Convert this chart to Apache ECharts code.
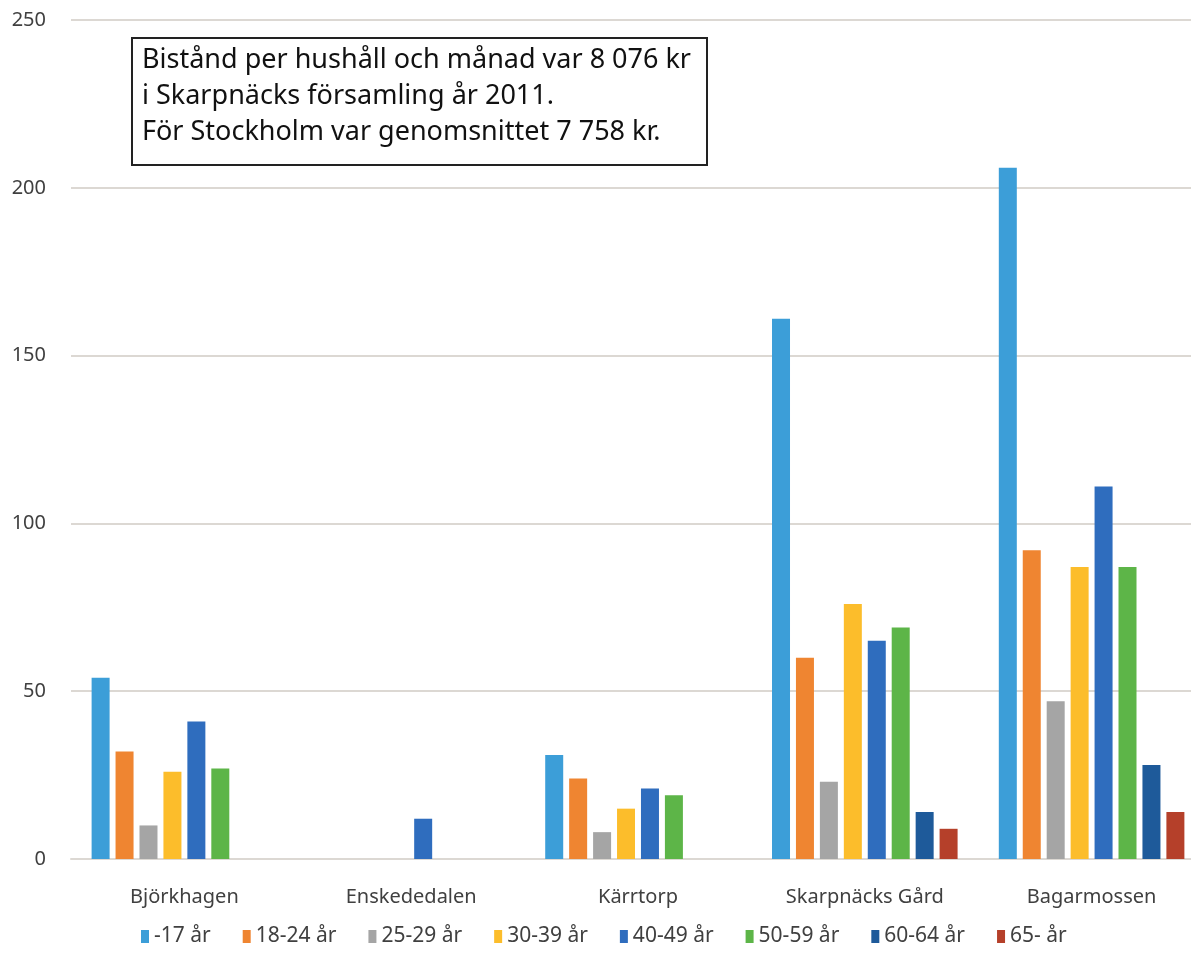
<!DOCTYPE html>
<html><head><meta charset="utf-8">
<script src="https://cdn.jsdelivr.net/npm/echarts@6/dist/echarts.min.js"></script>
<style>html,body{margin:0;padding:0;background:#fff}#c{width:1191px;height:963px}</style>
</head><body><div id="c"></div>
<script>
const categories = ['Björkhagen', 'Enskededalen', 'Kärrtorp', 'Skarpnäcks Gård', 'Bagarmossen'];
const seriesNames = ['-17 år', '18-24 år', '25-29 år', '30-39 år', '40-49 år', '50-59 år', '60-64 år', '65- år'];
const age0_17  = [54, 0, 31, 161, 206];
const age18_24 = [32, 0, 24, 60, 92];
const age25_29 = [10, 0, 8, 23, 47];
const age30_39 = [26, 0, 15, 76, 87];
const age40_49 = [41, 12, 21, 65, 111];
const age50_59 = [27, 0, 19, 69, 87];
const age60_64 = [0, 0, 0, 14, 28];
const age65    = [0, 0, 0, 9, 14];
const yTicks = [0, 50, 100, 150, 200, 250];
const colors = ['#3C9ED8', '#EF8531', '#A5A5A5', '#FCBD2B', '#2F6DBE', '#5DB548', '#1E5A9A', '#B5402A'];
const values = [age0_17, age18_24, age25_29, age30_39, age40_49, age50_59, age60_64, age65];
const noteLines = ['Bistånd per hushåll och månad var 8 076 kr', 'i Skarpnäcks församling år 2011.', 'För Stockholm var genomsnittet 7 758 kr.'];

const FONT = '"Noto Sans", sans-serif';
const chart = echarts.init(document.getElementById('c'), null, {renderer: 'canvas'});
chart.setOption({
  animation: false,
  backgroundColor: '#ffffff',
  color: colors,
  grid: {left: 71, width: 1134, top: 20, bottom: 104, outerBoundsMode: 'none', containLabel: false},
  legend: {
    data: seriesNames,
    left: 136, top: 921,
    itemWidth: 8, itemHeight: 13, itemGap: 32,
    icon: 'rect',
    textStyle: {fontFamily: FONT, fontSize: 21, color: '#404040', padding: [0, 0, 0, 0]}
  },
  xAxis: {
    type: 'category', data: categories,
    axisLine: {show: true, lineStyle: {color: '#dcd8d3', width: 2}},
    axisTick: {show: false},
    axisLabel: {fontFamily: FONT, fontSize: 20, color: '#404040', margin: 28}
  },
  yAxis: {
    type: 'value', min: yTicks[0], max: yTicks[yTicks.length - 1], interval: 50,
    axisLine: {show: false}, axisTick: {show: false},
    axisLabel: {fontFamily: FONT, fontSize: 20, color: '#404040', margin: 25},
    splitLine: {lineStyle: {color: '#dcd8d3', width: 2}}
  },
  series: seriesNames.map((n, i) => ({
    name: n, type: 'bar', data: values[i],
    barWidth: 18, barGap: '33%',
    itemStyle: {color: colors[i]}
  })),
  graphic: [
    {type: 'rect', shape: {x: 132, y: 38, width: 575, height: 127},
     style: {fill: '#fff', stroke: '#222', lineWidth: 2}, z: 100},
    {type: 'text', left: 142, top: 42, z: 101,
     style: {text: noteLines.join('\n'), fontFamily: FONT, fontSize: 27, lineHeight: 36, fill: '#111'}}
  ]
});
</script></body></html>
